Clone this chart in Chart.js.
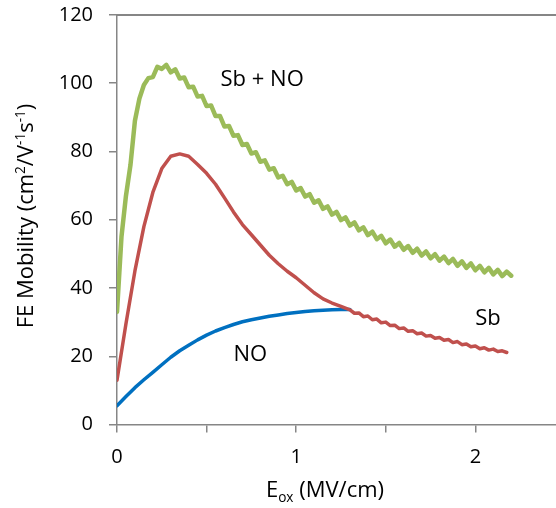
<!DOCTYPE html>
<html>
<head>
<meta charset="utf-8">
<script src="https://cdn.jsdelivr.net/npm/chart.js@4.4.1/dist/chart.umd.min.js"></script>
<style>
  html, body { margin: 0; padding: 0; background: #ffffff; }
  #wrap { width: 556px; height: 508px; }
</style>
</head>
<body>
<div id="wrap"><canvas id="c" width="556" height="508"></canvas></div>
<script>
// Field-effect mobility vs. oxide field for three passivation treatments
const seriesNames = ['Sb + NO', 'Sb', 'NO'];

// Sb + NO
const fieldSbNO = [0,0.025,0.05,0.075,0.1,0.125,0.15,0.175,0.2,0.225,0.25,0.275,0.3,0.325,0.35,0.375,0.4,0.425,0.45,0.475,0.5,0.525,0.55,0.575,0.6,0.625,0.65,0.675,0.7,0.725,0.75,0.775,0.8,0.825,0.85,0.875,0.9,0.925,0.95,0.975,1,1.025,1.05,1.075,1.1,1.125,1.15,1.175,1.2,1.225,1.25,1.275,1.3,1.325,1.35,1.375,1.4,1.425,1.45,1.475,1.5,1.525,1.55,1.575,1.6,1.625,1.65,1.675,1.7,1.725,1.75,1.775,1.8,1.825,1.85,1.875,1.9,1.925,1.95,1.975,2,2.025,2.05,2.075,2.1,2.125,2.15,2.175,2.2];
const mobilitySbNO = [33,55,67,76,89,95.5,99.5,101.5,101.8,104.8,104.2,105.4,103.2,104.1,101.4,101.7,98.8,99.0,96.1,96.3,93.3,93.5,90.4,90.4,87.3,87.5,84.6,84.8,81.9,82.2,79.4,79.8,77.0,77.4,74.7,75.1,72.4,72.9,70.4,71.1,68.6,69.3,66.8,67.5,65.0,65.7,63.2,63.9,61.5,62.3,59.9,60.7,58.3,59.2,56.9,57.8,55.5,56.5,54.3,55.3,53.1,54.2,52.1,53.2,51.2,52.3,50.3,51.5,49.5,50.7,48.7,49.9,48.0,49.2,47.3,48.5,46.5,47.8,45.9,47.2,45.2,46.5,44.6,45.9,44.0,45.3,43.5,44.8,43.6];

// Sb
const fieldSb = [0,0.05,0.1,0.15,0.2,0.25,0.3,0.35,0.4,0.45,0.5,0.55,0.6,0.65,0.7,0.75,0.8,0.85,0.9,0.95,1,1.05,1.1,1.15,1.2,1.25,1.3,1.325,1.35,1.375,1.4,1.425,1.45,1.475,1.5,1.525,1.55,1.575,1.6,1.625,1.65,1.675,1.7,1.725,1.75,1.775,1.8,1.825,1.85,1.875,1.9,1.925,1.95,1.975,2,2.025,2.05,2.075,2.1,2.125,2.15,2.175];
const mobilitySb = [13,29.5,45,58,68,75,78.6,79.3,78.6,76.2,73.6,70.4,66.4,62.3,58.6,55.6,52.6,49.6,47.1,44.9,43.0,40.8,38.6,36.8,35.6,34.6,33.6,32.6,32.7,31.6,31.8,30.7,30.9,29.8,30.0,29.0,29.1,28.1,28.3,27.3,27.5,26.6,26.8,25.9,26.1,25.3,25.5,24.7,24.9,24.0,24.3,23.4,23.6,22.8,23.0,22.2,22.5,21.8,22.1,21.4,21.6,21.1];

// NO
const fieldNO = [0,0.05,0.1,0.15,0.2,0.25,0.3,0.35,0.4,0.45,0.5,0.55,0.6,0.65,0.7,0.75,0.8,0.85,0.9,0.95,1,1.05,1.1,1.15,1.2,1.25,1.3];
const mobilityNO = [5.5,8.2,10.8,13.1,15.3,17.5,19.7,21.6,23.2,24.8,26.2,27.4,28.4,29.3,30.1,30.7,31.2,31.7,32.1,32.5,32.8,33.1,33.3,33.5,33.6,33.7,33.7];

// Axis tick values
const yTicks = [0, 20, 40, 60, 80, 100, 120];
const xTickLabels = [0, 1, 2];

const FONT = "'Open Sans', 'DejaVu Sans', sans-serif";
const AXIS_GREY = '#868686';

function pts(xs, ys) { return xs.map((x, i) => ({ x: x, y: ys[i] })); }

// Draws a string made of normal / superscript / subscript pieces, centred on (x, y)
function drawRich(ctx, parts, x, y, size, rotated) {
  ctx.save();
  ctx.translate(x, y);
  if (rotated) ctx.rotate(-Math.PI / 2);
  ctx.textBaseline = 'alphabetic';
  ctx.textAlign = 'left';
  ctx.fillStyle = '#000';
  const fs = p => (p.s ? size * 0.62 : size);
  let total = 0;
  parts.forEach(p => { ctx.font = fs(p) + 'px ' + FONT; total += ctx.measureText(p.t).width; });
  let cx = -total / 2;
  parts.forEach(p => {
    ctx.font = fs(p) + 'px ' + FONT;
    const dy = p.s === 'sup' ? -size * 0.36 : (p.s === 'sub' ? size * 0.22 : 0);
    ctx.fillText(p.t, cx, dy);
    cx += ctx.measureText(p.t).width;
  });
  ctx.restore();
}

const decorations = {
  id: 'decorations',
  afterDraw(chart) {
    const ctx = chart.ctx;
    const area = chart.chartArea;
    const xs = chart.scales.x, ys = chart.scales.y;

    // top frame line
    ctx.save();
    ctx.strokeStyle = AXIS_GREY;
    ctx.lineWidth = 2;
    ctx.beginPath();
    ctx.moveTo(area.left, area.top);
    ctx.lineTo(area.right, area.top);
    ctx.stroke();
    ctx.restore();

    // series labels beside the curves
    ctx.save();
    ctx.fillStyle = '#000';
    ctx.font = '22px ' + FONT;
    ctx.textAlign = 'center';
    ctx.textBaseline = 'middle';
    ctx.fillText(seriesNames[0], xs.getPixelForValue(0.81), ys.getPixelForValue(101));
    ctx.fillText(seriesNames[1], xs.getPixelForValue(2.07), ys.getPixelForValue(31));
    ctx.fillText(seriesNames[2], xs.getPixelForValue(0.744), ys.getPixelForValue(20.4));
    ctx.restore();

    // axis titles
    drawRich(ctx, [{ t: 'E' }, { t: 'ox', s: 'sub' }, { t: ' (MV/cm)' }], 325, 497, 22, false);
    drawRich(ctx, [{ t: 'FE Mobility (cm' }, { t: '2', s: 'sup' }, { t: '/V' }, { t: '-1', s: 'sup' },
                   { t: 's' }, { t: '-1', s: 'sup' }, { t: ')' }], 33, 216, 22, true);
  }
};

const line = (label, data, color, width) => ({
  label: label, data: data, borderColor: color, backgroundColor: color,
  borderWidth: width, pointRadius: 0, tension: 0, fill: false,
  borderCapStyle: 'round', borderJoinStyle: 'round'
});

new Chart(document.getElementById('c'), {
  type: 'line',
  data: {
    datasets: [
      line(seriesNames[0], pts(fieldSbNO, mobilitySbNO), '#9BBB59', 4.5),
      line(seriesNames[1], pts(fieldSb, mobilitySb), '#C0504D', 3.5),
      line(seriesNames[2], pts(fieldNO, mobilityNO), '#0070C0', 3.5)
    ]
  },
  options: {
    responsive: false,
    animation: false,
    devicePixelRatio: 1,
    layout: { padding: { top: 15, right: 0, bottom: 0, left: 0 } },
    plugins: { legend: { display: false }, tooltip: { enabled: false } },
    scales: {
      x: {
        type: 'linear', min: 0, max: 2.45,
        grid: { display: true, drawOnChartArea: false, drawTicks: true, tickLength: 8, color: AXIS_GREY, lineWidth: 1.5 },
        border: { display: true, color: AXIS_GREY, width: 1.5 },
        ticks: {
          stepSize: 0.5, padding: 13, color: '#000', font: { family: FONT, size: 20 },
          maxRotation: 0, autoSkip: false,
          callback: v => (xTickLabels.includes(v) ? String(v) : '')
        },
        afterBuildTicks: s => { s.ticks = s.ticks.filter(t => Math.abs(t.value * 2 - Math.round(t.value * 2)) < 1e-6); },
        afterFit: s => { s.height = 83.5; s.paddingLeft = 0; s.paddingRight = 0; }
      },
      y: {
        type: 'linear', min: 0, max: 120,
        grid: { display: true, drawOnChartArea: false, drawTicks: true, tickLength: 8, color: AXIS_GREY, lineWidth: 1.5 },
        border: { display: true, color: AXIS_GREY, width: 1.5 },
        ticks: { stepSize: 20, padding: 16, color: '#000', font: { family: FONT, size: 20 } },
        afterBuildTicks: s => { s.ticks = yTicks.map(v => ({ value: v })); },
        afterFit: s => { s.width = 117; s.paddingTop = 0; s.paddingBottom = 0; }
      }
    }
  },
  plugins: [decorations]
});
</script>
</body>
</html>
